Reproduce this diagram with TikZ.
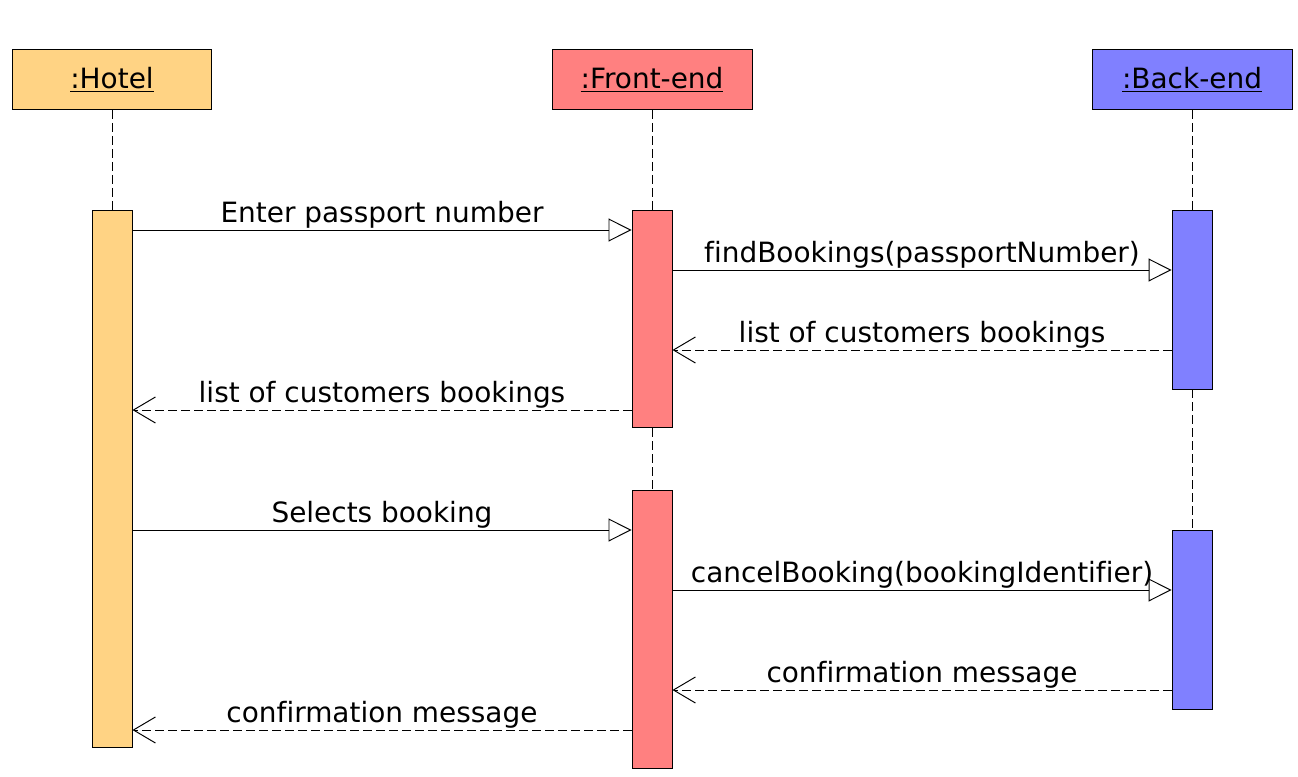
\documentclass[tikz,border=0pt]{standalone}
\usepackage{fontspec}
\setmainfont{DejaVu Sans}[Ligatures=NoCommon]
\usetikzlibrary{arrows.meta}
\definecolor{hotelc}{HTML}{FFD384}
\definecolor{frontc}{HTML}{FF8080}
\definecolor{backc}{HTML}{8080FF}
\begin{document}
\begin{tikzpicture}[x=0.02cm,y=-0.02cm,font=\fontsize{15.9}{18}\selectfont,line width=0.55pt]
	\tikzstyle{header} = [draw, minimum width=4cm, minimum height=1.2cm, inner sep=0]
	\tikzstyle{activation} = [draw, minimum width=0.8cm, inner sep=0]
	\tikzstyle{lifeline} = [dash pattern=on 0.18cm off 0.08cm]
	\tikzstyle{call} = [-{Triangle[open,length=0.46cm,width=0.46cm]}]
	\tikzstyle{reply} = [dash pattern=on 0.18cm off 0.08cm, -{Straight Barb[length=0.44cm,width=0.52cm]}]
	\tikzstyle{msgtext} = [midway, anchor=base, yshift=0.16cm, inner sep=0]
	\useasboundingbox (0,0) rectangle (1298,777);
	\node [header, fill=hotelc] (hotel) at (112,79.5) {\underline{:Hotel}};
	\node [header, fill=frontc] (front) at (652,79.5) {\underline{:Front-end}};
	\node [header, fill=backc] (back) at (1192,79.5) {\underline{:Back-end}};
	\node [activation, fill=hotelc, minimum height=10.76cm] (hotelA) at (112,479) {};
	\node [activation, fill=frontc, minimum height=4.36cm] (front1) at (652,319) {};
	\node [activation, fill=frontc, minimum height=5.58cm] (front2) at (652,629.5) {};
	\node [activation, fill=backc, minimum height=3.58cm] (back1) at (1192,299.5) {};
	\node [activation, fill=backc, minimum height=3.58cm] (back2) at (1192,619.5) {};
	\draw [lifeline] (hotel) -- (hotelA);
	\draw [lifeline] (front) -- (front1);
	\draw [lifeline] (front1) -- (front2);
	\draw [lifeline] (back) -- (back1);
	\draw [lifeline] (back1) -- (back2);
	\foreach \n/\y in {1/230,2/270,3/350,4/410,5/530,6/590,7/690,8/730}
		\coordinate (m\n) at (0,\y);
	\draw [call] (hotelA.east |- m1) -- (front1.west |- m1) node [msgtext] {Enter passport number};
	\draw [call] (front1.east |- m2) -- (back1.west |- m2) node [msgtext] {findBookings(passportNumber)};
	\draw [reply] (back1.west |- m3) -- (front1.east |- m3) node [msgtext] {list of customers bookings};
	\draw [reply] (front1.west |- m4) -- (hotelA.east |- m4) node [msgtext] {list of customers bookings};
	\draw [call] (hotelA.east |- m5) -- (front2.west |- m5) node [msgtext] {Selects booking};
	\draw [call] (front2.east |- m6) -- (back2.west |- m6) node [msgtext] {cancelBooking(bookingIdentifier)};
	\draw [reply] (back2.west |- m7) -- (front2.east |- m7) node [msgtext] {confirmation message};
	\draw [reply] (front2.west |- m8) -- (hotelA.east |- m8) node [msgtext] {confirmation message};
\end{tikzpicture}
\end{document}
